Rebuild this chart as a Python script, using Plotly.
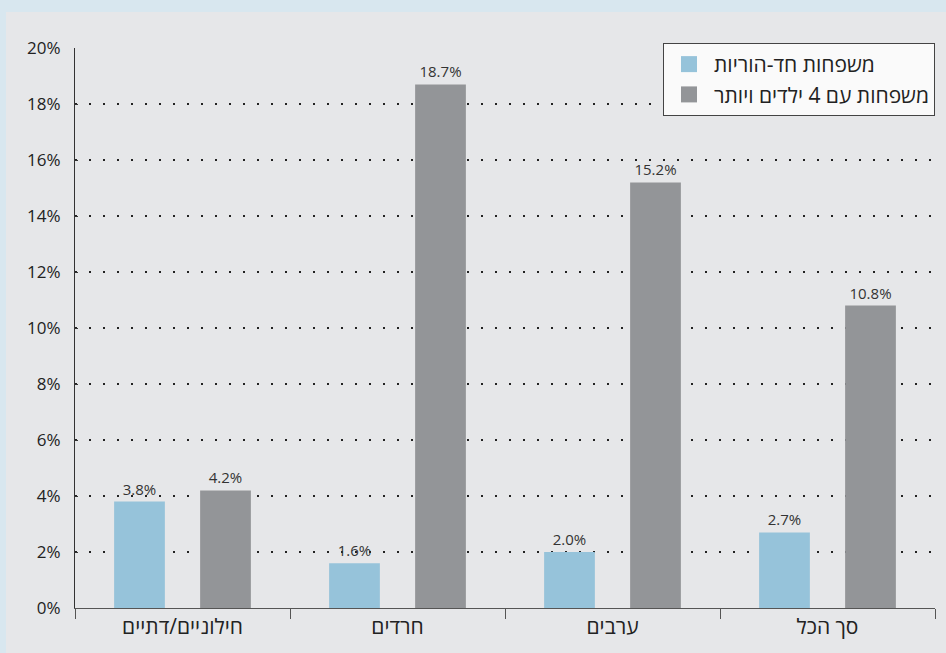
import plotly.graph_objects as go

# categories, shown left to right as in the original chart
categories = ["חילוניים/דתיים", "חרדים", "ערבים", "סך הכל"]
single_parent = [3.8, 1.6, 2.0, 2.7]
large_families = [4.2, 18.7, 15.2, 10.8]
series_names = ["משפחות חד-הוריות", "משפחות עם 4 ילדים ויותר"]
series_colors = ["#96c3da", "#939598"]

FONT = "Open Sans, DejaVu Sans, sans-serif"

fig = go.Figure()

for name, values, color in zip(series_names, [single_parent, large_families], series_colors):
    fig.add_trace(go.Bar(
        x=categories,
        y=values,
        name=name,
        showlegend=False,
        marker=dict(color=color, line=dict(width=0)),
        texttemplate="%{y:.1f}%",
        textposition="outside",
        textfont=dict(size=15, color="#333333"),
        cliponaxis=False,
    ))

# legend entries with bigger square swatches
for name, color in zip(series_names, series_colors):
    fig.add_trace(go.Scatter(
        x=[None],
        y=[None],
        name=name,
        mode="markers",
        marker=dict(symbol="square", size=18, color=color),
    ))

fig.update_layout(
    width=946,
    height=653,
    margin=dict(l=75, r=11, t=48, b=45, autoexpand=False),
    paper_bgcolor="#e6e7e9",
    plot_bgcolor="#e6e7e9",
    font=dict(family=FONT, size=16, color="#222222"),
    barmode="group",
    bargap=0.2,
    bargroupgap=0.41,
    showlegend=True,
    legend=dict(
        x=1.0,
        y=1.009,
        xanchor="right",
        yanchor="top",
        bgcolor="#fafafa",
        bordercolor="#444444",
        borderwidth=1,
        font=dict(size=21, color="#222222"),
        itemsizing="trace",
        itemwidth=40,
    ),
    xaxis=dict(
        showgrid=False,
        showline=True,
        linecolor="#555555",
        linewidth=1,
        ticks="outside",
        tickson="boundaries",
        ticklen=10,
        tickcolor="#555555",
        tickfont=dict(size=21, color="#222222"),
    ),
    yaxis=dict(
        range=[0, 20],
        dtick=2,
        ticksuffix="%",
        showgrid=True,
        gridcolor="#222222",
        gridwidth=2,
        griddash="2px,12px",
        zeroline=False,
        showline=True,
        linecolor="#333333",
        linewidth=1,
        ticks="inside",
        ticklen=3,
        tickcolor="#333333",
        ticklabelstandoff=10,
        tickfont=dict(size=17, color="#222222"),
    ),
    shapes=[
        # light blue frame along the top and left edges
        dict(type="rect", xref="paper", yref="paper",
             x0=-75 / 860, x1=871 / 860, y0=(608 - 12) / 560, y1=653 / 560,
             fillcolor="#d8e7ef", line=dict(width=0), layer="below"),
        dict(type="rect", xref="paper", yref="paper",
             x0=-75 / 860, x1=-69 / 860, y0=-45 / 560, y1=653 / 560,
             fillcolor="#d8e7ef", line=dict(width=0), layer="below"),
    ],
)

# remove the default page margin so the figure fills the window
fig.write_html(
    "out.html",
    config={"displayModeBar": False},
    post_script="document.body.style.margin='0';document.body.style.overflow='hidden';",
)
